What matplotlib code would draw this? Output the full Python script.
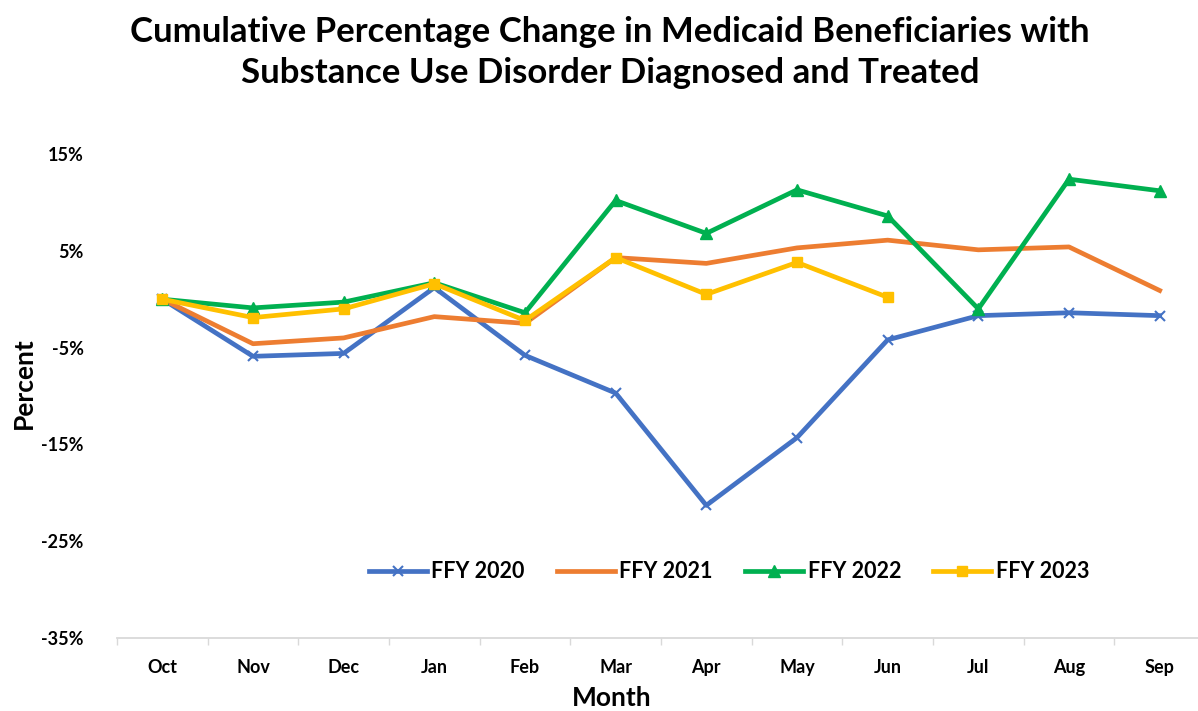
import matplotlib
matplotlib.use("Agg")
import matplotlib.pyplot as plt
from matplotlib.ticker import FixedLocator, NullFormatter

months = ["Oct", "Nov", "Dec", "Jan", "Feb", "Mar", "Apr", "May", "Jun", "Jul", "Aug", "Sep"]
ffy2020 = [0.0, -5.9, -5.6, 1.2, -5.8, -9.7, -21.3, -14.3, -4.2, -1.7, -1.4, -1.7]
ffy2021 = [0.0, -4.6, -4.0, -1.8, -2.5, 4.3, 3.7, 5.3, 6.1, 5.1, 5.4, 0.9]
ffy2022 = [0.0, -0.9, -0.3, 1.7, -1.4, 10.2, 6.8, 11.3, 8.6, -1.0, 12.4, 11.2]
ffy2023 = [0.0, -1.9, -1.0, 1.6, -2.2, 4.3, 0.5, 3.8, 0.2]
yticks = [15, 5, -5, -15, -25, -35]

plt.rcParams['font.family'] = ['Lato', 'DejaVu Sans']

fig = plt.figure(figsize=(11.98, 7.11), dpi=100)
ax = fig.add_axes([117/1198, 1 - 638/711, 1088/1198, (638 - 154)/711])

x = list(range(len(months)))
ax.plot(x, ffy2020, color="#4472C4", lw=3.4, marker="x", ms=7, mew=1.5, label="FFY 2020", zorder=2)
ax.plot(x, ffy2021, color="#ED7D31", lw=3.4, label="FFY 2021", zorder=3)
ax.plot(x, ffy2022, color="#00B050", lw=3.4, marker="^", ms=8, label="FFY 2022", zorder=4)
ax.plot(x[:len(ffy2023)], ffy2023, color="#FFC000", lw=3.4, marker="s", ms=7.5, label="FFY 2023", zorder=5)

ax.set_xlim(-0.5, len(months) - 0.5)
ax.set_ylim(-35, 15)
ax.set_yticks(yticks)
ax.set_yticklabels([f"{v}%" for v in yticks], fontsize=13, fontweight="bold")
ax.set_xticks(x)
ax.set_xticklabels(months, fontsize=13, fontweight="bold")
ax.tick_params(axis="x", length=0, pad=15)
ax.tick_params(axis="y", length=0, pad=24)
ax.xaxis.set_minor_locator(FixedLocator([i - 0.5 for i in range(len(months) + 1)]))
ax.xaxis.set_minor_formatter(NullFormatter())
ax.tick_params(axis="x", which="minor", length=5, width=1, color="#d9d9d9", direction="out")

for s in ["top", "right", "left"]:
    ax.spines[s].set_visible(False)
ax.spines["bottom"].set_color("#d9d9d9")
ax.spines["bottom"].set_linewidth(1.3)

ax.set_ylabel("Percent", fontsize=19, fontweight="bold")
ax.yaxis.set_label_coords((36 - 117)/1088, (638 - 383)/484)
ax.set_xlabel("Month", fontsize=19, fontweight="bold")
ax.xaxis.set_label_coords((612 - 117)/1088, -(686 - 638)/484)

leg = ax.legend(loc="center", bbox_to_anchor=(612/1088, (638 - 572)/484), ncol=4, frameon=False,
                prop={"size": 15.5, "weight": "bold"}, handlelength=2.7, columnspacing=1.5, handletextpad=0.2)

fig.text(610/1198, 1 - 32/711, "Cumulative Percentage Change in Medicaid Beneficiaries with",
         ha="center", va="center", fontsize=25, fontweight="bold")
fig.text(610/1198, 1 - 73/711, "Substance Use Disorder Diagnosed and Treated",
         ha="center", va="center", fontsize=25, fontweight="bold")

fig.savefig("out.png", dpi=100, facecolor="white")
